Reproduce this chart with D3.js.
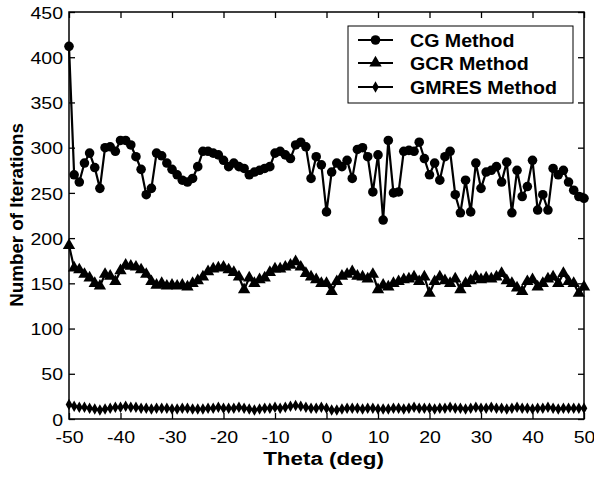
<!DOCTYPE html>
<html>
<head>
  <meta charset="utf-8">
  <style>
body { margin: 0; background: #fff; }
svg { font-family: "Liberation Sans", Arial, sans-serif; }
  </style>
</head>
<body>
  <svg id="chart" width="594" height="478"></svg>
  <script src="https://cdn.jsdelivr.net/npm/d3@7"></script>
  <script>
// Theta from -50 to 50 deg, one run per degree
var theta = d3.range(-50, 51);

var cgIters = [412, 270, 262, 283, 294, 278, 255, 300, 301, 296,
  308, 308, 303, 290, 276, 248, 255, 294, 291, 283,
  276, 270, 264, 262, 266, 279, 296, 296, 294, 292,
  286, 279, 283, 279, 277, 270, 273, 275, 277, 279,
  294, 296, 292, 288, 303, 306, 301, 266, 290, 281,
  229, 273, 283, 279, 286, 266, 298, 300, 290, 251,
  292, 220, 308, 250, 251, 296, 297, 296, 306, 288,
  270, 283, 264, 290, 296, 248, 228, 264, 229, 283,
  255, 273, 275, 279, 262, 284, 228, 275, 246, 257,
  286, 231, 248, 231, 277, 270, 275, 262, 253, 246, 244];

var gcrIters = [192, 167, 165, 160, 156, 150, 147, 160, 158, 152,
  164, 170, 169, 168, 165, 160, 152, 148, 150, 147,
  148, 147, 148, 146, 150, 153, 157, 163, 166, 167,
  168, 165, 162, 157, 143, 156, 150, 154, 156, 162,
  166, 166, 168, 170, 174, 168, 161, 157, 154, 150,
  150, 141, 152, 158, 160, 163, 158, 157, 155, 160,
  143, 148, 146, 150, 152, 154, 155, 157, 152, 157,
  139, 152, 157, 153, 150, 155, 143, 150, 153, 157,
  154, 156, 155, 157, 161, 153, 150, 145, 141, 152,
  154, 146, 150, 155, 157, 150, 161, 152, 150, 139, 146];

var gmresIters = [16, 14, 13, 13, 12, 11, 10, 11, 12, 13,
  13, 14, 13, 13, 12, 12, 11, 12, 12, 12,
  11, 11, 12, 12, 11, 11, 11, 12, 12, 13,
  12, 12, 12, 13, 12, 11, 10, 11, 12, 12,
  13, 12, 13, 14, 15, 14, 13, 12, 12, 13,
  12, 10, 10, 11, 12, 12, 12, 11, 12, 12,
  11, 11, 11, 12, 12, 11, 12, 13, 12, 12,
  12, 11, 12, 12, 13, 12, 12, 11, 12, 13,
  12, 12, 13, 12, 12, 11, 12, 13, 12, 12,
  11, 12, 12, 13, 12, 11, 12, 12, 12, 12, 12];

var xTicks = [-50, -40, -30, -20, -10, 0, 10, 20, 30, 40, 50];
var yTicks = [0, 50, 100, 150, 200, 250, 300, 350, 400, 450];
var seriesNames = ["CG Method", "GCR Method", "GMRES Method"];

var svg = d3.select("#chart");
var pLeft = 69, pRight = 584, pTop = 12, pBottom = 419;

var x = d3.scaleLinear().domain([-50, 50]).range([pLeft, pRight]);
var y = d3.scaleLinear().domain([0, 450]).range([pBottom, pTop]);

// the original picture is stretched sideways a bit
var sx = 1.15;
var plain = function(d) { return String(d); };

// ticks on all four sides, pointing inwards
var gx = svg.append("g").attr("transform", "translate(0," + pBottom + ")")
  .call(d3.axisBottom(x).tickValues(xTicks).tickSize(-6).tickPadding(0).tickFormat(plain));
svg.append("g").attr("transform", "translate(0," + pTop + ")")
  .call(d3.axisTop(x).tickValues(xTicks).tickSize(-6).tickFormat(""));
var gy = svg.append("g").attr("transform", "translate(" + pLeft + ",0)")
  .call(d3.axisLeft(y).tickValues(yTicks).tickSize(-6).tickFormat(plain));
svg.append("g").attr("transform", "translate(" + pRight + ",0)")
  .call(d3.axisRight(y).tickValues(yTicks).tickSize(-6).tickFormat(""));

svg.selectAll(".domain").remove();
svg.selectAll(".tick line").attr("stroke", "#000").attr("stroke-width", 1.3);

gx.selectAll("text")
  .attr("font-size", 17).attr("fill", "#000")
  .attr("y", 0).attr("dy", 0)
  .attr("transform", "translate(0,24) scale(" + sx + ",1)");
gy.selectAll("text")
  .attr("font-size", 17).attr("fill", "#000")
  .attr("x", -6 / sx).attr("dy", "0.36em")
  .attr("transform", "scale(" + sx + ",1)");

// frame
svg.append("rect")
  .attr("x", pLeft).attr("y", pTop)
  .attr("width", pRight - pLeft).attr("height", pBottom - pTop)
  .attr("fill", "none").attr("stroke", "#000").attr("stroke-width", 1.5);

// axis titles
svg.append("text")
  .attr("transform", "translate(" + ((pLeft + pRight) / 2 - 3) + ",465) scale(1.18,1)")
  .attr("text-anchor", "middle")
  .attr("font-size", 19).attr("font-weight", "bold")
  .text("Theta (deg)");
svg.append("text")
  .attr("transform", "translate(23,215) rotate(-90)")
  .attr("text-anchor", "middle")
  .attr("font-size", 18.8).attr("font-weight", "bold")
  .text("Number of Iterations");

var line = d3.line()
  .x(function(d) { return x(d[0]); })
  .y(function(d) { return y(d[1]); });

function pairs(vals) {
  return theta.map(function(t, i) { return [t, vals[i]]; });
}

var circleSym = d3.symbol().type(d3.symbolCircle).size(72);
var triSym = d3.symbol().type(d3.symbolTriangle).size(66);
var diaSym = d3.symbol().type(d3.symbolDiamond).size(38);

var series = [
  { name: seriesNames[0], vals: cgIters, sym: circleSym, w: 2.2 },
  { name: seriesNames[1], vals: gcrIters, sym: triSym, w: 2.2 },
  { name: seriesNames[2], vals: gmresIters, sym: diaSym, w: 2.2 }
];

series.forEach(function(s) {
  var pts = pairs(s.vals);
  svg.append("path")
    .datum(pts)
    .attr("fill", "none")
    .attr("stroke", "#000")
    .attr("stroke-width", s.w)
    .attr("d", line);
  svg.append("g").selectAll("path")
    .data(pts)
    .enter().append("path")
      .attr("transform", function(d) { return "translate(" + x(d[0]) + "," + y(d[1]) + ")"; })
      .attr("d", s.sym)
      .attr("fill", "#000");
});

// legend
var legend = svg.append("g");
legend.append("rect")
  .attr("x", 348).attr("y", 26)
  .attr("width", 225).attr("height", 77)
  .attr("fill", "#fff").attr("stroke", "#000").attr("stroke-width", 1);

var rowY = [40, 63, 87];
series.forEach(function(s, i) {
  legend.append("line")
    .attr("x1", 358).attr("x2", 393)
    .attr("y1", rowY[i]).attr("y2", rowY[i])
    .attr("stroke", "#000").attr("stroke-width", 2);
  legend.append("path")
    .attr("transform", "translate(375.5," + rowY[i] + ")")
    .attr("d", s.sym)
    .attr("fill", "#000");
  legend.append("text")
    .attr("transform", "translate(410," + (rowY[i] + 6.5) + ") scale(1.09,1)")
    .attr("font-size", 18).attr("font-weight", "bold")
    .text(s.name);
});
  </script>
</body>
</html>
